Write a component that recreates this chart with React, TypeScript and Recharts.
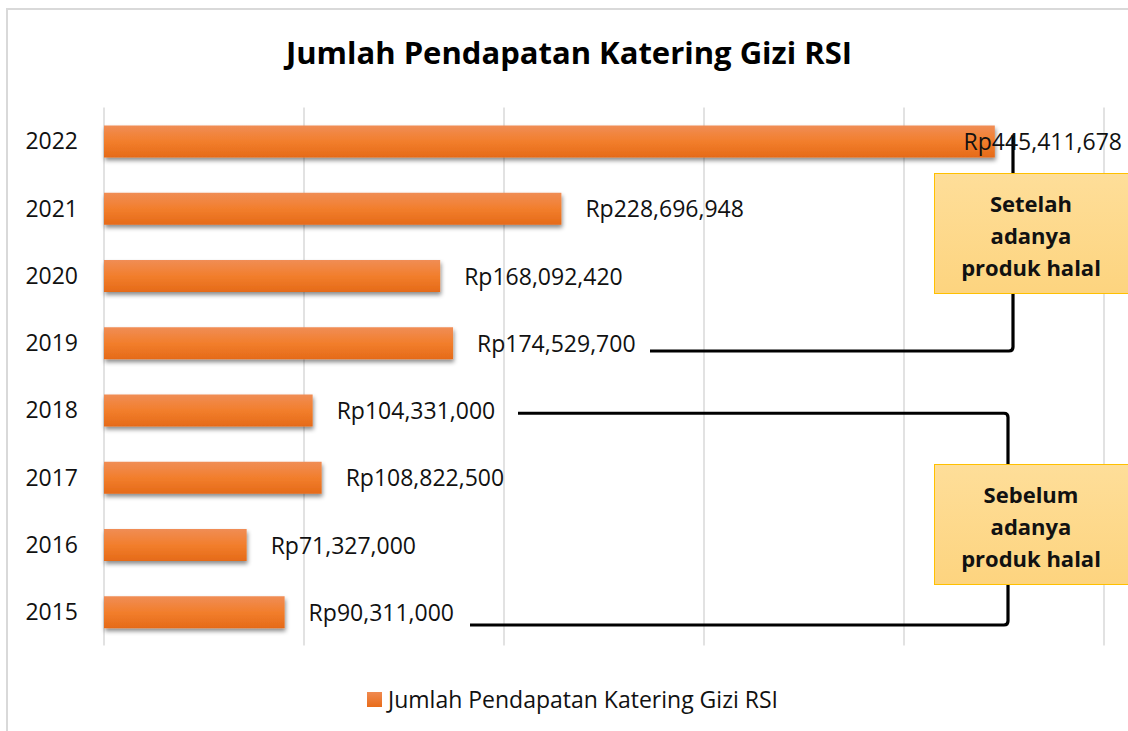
import React from 'react';
import { BarChart, Bar, XAxis, YAxis, CartesianGrid, LabelList, ReferenceLine } from 'recharts';

const years = ['2022', '2021', '2020', '2019', '2018', '2017', '2016', '2015'];
const revenue = [445411678, 228696948, 168092420, 174529700, 104331000, 108822500, 71327000, 90311000];
const xTicks = [0, 100000000, 200000000, 300000000, 400000000, 500000000];
const title = 'Jumlah Pendapatan Katering Gizi RSI';
const seriesName = 'Jumlah Pendapatan Katering Gizi RSI';
const noteAfter = ['Setelah', 'adanya', 'produk halal'];
const noteBefore = ['Sebelum', 'adanya', 'produk halal'];

const data = years.map((y, i) => ({ year: y, value: revenue[i] }));

const FONT = '"Open Sans", "Noto Sans", sans-serif';
const fmt = (v: number) => 'Rp' + v.toLocaleString('en-US');

const renderLabel = (props: any) => {
  const { x, y, width, height, value } = props;
  const end = Number(x) + Number(width);
  const fits = end + 24 + 165 <= 1124;
  return (
    <text
      x={fits ? end + 24 : 1122}
      y={Number(y) + Number(height) / 2 + 8.5}
      textAnchor={fits ? 'start' : 'end'}
      fontSize={23}
      fontFamily={FONT}
      fill="#111"
    >
      {fmt(Number(value))}
    </text>
  );
};

const bracketTop = (props: any) => {
  const { x1, y1, x2, y2 } = props;
  const yb = y1 + 8;
  const r = 4;
  return (
    <path
      d={`M ${x1} ${yb} H ${x2 - r} Q ${x2} ${yb} ${x2} ${yb - r} V ${y2 - 6}`}
      fill="none"
      stroke="#000"
      strokeWidth={3.2}
    />
  );
};

const bracketBottomA = (props: any) => {
  const { x1, y1, x2, y2 } = props;
  const ya = y1 + 3;
  const yb = y2 + 13;
  const r = 4;
  return (
    <path
      d={`M ${x1} ${ya} H ${x2 - r} Q ${x2} ${ya} ${x2} ${ya + r} V ${yb - r} Q ${x2} ${yb} ${x2 - r} ${yb}`}
      fill="none"
      stroke="#000"
      strokeWidth={3.2}
    />
  );
};

const bracketBottomB = (props: any) => {
  const { x1, y1, x2 } = props;
  const yb = y1 + 13;
  return <path d={`M ${x1} ${yb} H ${x2 - 4}`} fill="none" stroke="#000" strokeWidth={3.2} />;
};

const NoteBox = ({ lines, top }: { lines: string[]; top: number }) => (
  <div
    style={{
      position: 'absolute',
      left: 934,
      top,
      width: 200,
      height: 121,
      boxSizing: 'border-box',
      border: '1.5px solid #FFC000',
      background: 'linear-gradient(#FEDE99, #FDD47F)',
      fontFamily: FONT,
      fontWeight: 700,
      fontSize: 22,
      lineHeight: '32px',
      color: '#111',
      textAlign: 'center',
      paddingTop: 13,
      paddingRight: 6,
    }}
  >
    {lines.map((l, i) => (
      <div key={i}>{l}</div>
    ))}
  </div>
);

export default function App() {
  return (
    <div style={{ position: 'absolute', left: 0, top: 0, width: 1128, height: 731, overflow: 'hidden', background: '#fff' }}>
      <svg width={0} height={0} style={{ position: 'absolute' }}>
        <defs>
          <linearGradient id="barGrad" x1="0" y1="0" x2="0" y2="1">
            <stop offset="0%" stopColor="#F08D55" />
            <stop offset="50%" stopColor="#F27E2C" />
            <stop offset="100%" stopColor="#E56A18" />
          </linearGradient>
          <filter id="barShadow" x="-5%" y="-30%" width="110%" height="180%">
            <feDropShadow dx="1" dy="3" stdDeviation="2" floodColor="#000" floodOpacity="0.45" />
          </filter>
        </defs>
      </svg>
      <div
        style={{
          position: 'absolute',
          left: 6,
          top: 8,
          width: 1300,
          height: 900,
          border: '2px solid #D9D9D9',
        }}
      />
      <div
        style={{
          position: 'absolute',
          left: 0,
          top: 30,
          width: 1138,
          textAlign: 'center',
          fontFamily: FONT,
          fontWeight: 700,
          fontSize: 31,
          lineHeight: '44px',
          color: '#000',
        }}
      >
        {title}
      </div>
      <div style={{ position: 'absolute', left: 0, top: 0 }}>
        <BarChart
          width={1128}
          height={731}
          data={data}
          layout="vertical"
          margin={{ top: 107.6, right: 24, bottom: 85.4, left: 0 }}
          barSize={32}
        >
          <CartesianGrid horizontal={false} vertical stroke="#D9D9D9" strokeWidth={1.5} />
          <XAxis type="number" domain={[0, 500000000]} ticks={xTicks} hide />
          <YAxis
            type="category"
            dataKey="year"
            width={104}
            axisLine={false}
            tickLine={false}
            tickSize={0}
            tickMargin={26}
            tick={{ fontSize: 23, fontFamily: FONT, fill: '#111' }}
          />
          <Bar dataKey="value" name={seriesName} fill="url(#barGrad)" filter="url(#barShadow)" isAnimationActive={false}>
            <LabelList dataKey="value" content={renderLabel} />
          </Bar>
          <ReferenceLine
            ifOverflow="visible"
            segment={[{ x: 273000000, y: '2019' }, { x: 454500000, y: '2022' }]}
            shape={bracketTop}
          />
          <ReferenceLine
            ifOverflow="visible"
            segment={[{ x: 207000000, y: '2018' }, { x: 452000000, y: '2015' }]}
            shape={bracketBottomA}
          />
          <ReferenceLine
            ifOverflow="visible"
            segment={[{ x: 183000000, y: '2015' }, { x: 452000000, y: '2015' }]}
            shape={bracketBottomB}
          />
        </BarChart>
      </div>
      <div
        style={{
          position: 'absolute',
          left: 367,
          top: 683,
          display: 'flex',
          alignItems: 'center',
          fontFamily: FONT,
          fontSize: 23,
          lineHeight: '32px',
          color: '#111',
          whiteSpace: 'nowrap',
        }}
      >
        <span style={{ display: 'inline-block', width: 15, height: 15, background: 'linear-gradient(#F08A50, #E86C1A)', marginRight: 6 }} />
        <span>{seriesName}</span>
      </div>
      <NoteBox lines={noteAfter} top={173} />
      <NoteBox lines={noteBefore} top={464} />
    </div>
  );
}
